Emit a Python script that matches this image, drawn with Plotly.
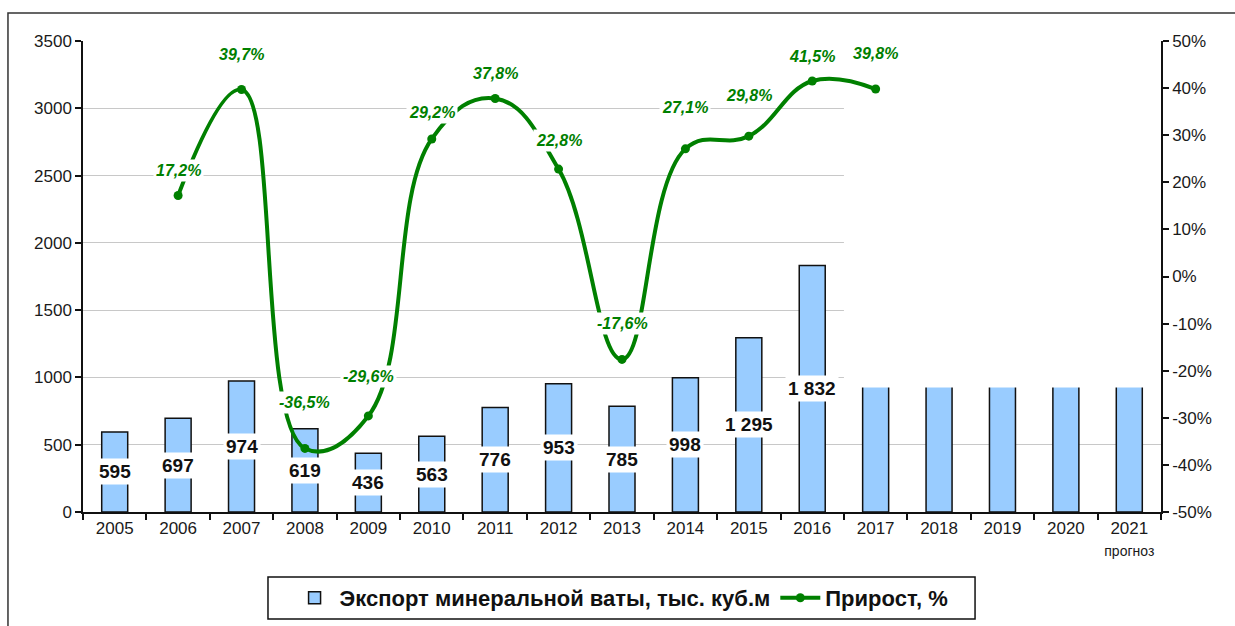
import plotly.graph_objects as go

# ---- data ----
years = ["2005", "2006", "2007", "2008", "2009", "2010", "2011", "2012",
         "2013", "2014", "2015", "2016", "2017", "2018", "2019", "2020", "2021"]
year_ticktext = ["2005", "2006", "2007", "2008", "2009", "2010", "2011", "2012",
                 "2013", "2014", "2015", "2016", "2017", "2018", "2019", "2020",
                 "2021<br><span style='font-size:14px'>прогноз</span>"]
export_years = ["2005", "2006", "2007", "2008", "2009", "2010", "2011", "2012",
                "2013", "2014", "2015", "2016"]
export_values = [595, 697, 974, 619, 436, 563, 776, 953, 785, 998, 1295, 1832]
forecast_years = ["2017", "2018", "2019", "2020", "2021"]
forecast_values = [960, 960, 960, 960, 960]   # tops hidden in the source

growth_years = ["2006", "2007", "2008", "2009", "2010", "2011", "2012",
                "2013", "2014", "2015", "2016", "2017"]
growth_values = [17.2, 39.7, -36.5, -29.6, 29.2, 37.8, 22.8, -17.6, 27.1, 29.8, 41.5, 39.8]

left_tickvals = [0, 500, 1000, 1500, 2000, 2500, 3000, 3500]
left_ticktext = ["0", "500", "1000", "1500", "2000", "2500", "3000", "3500"]
right_tickvals = [-50, -40, -30, -20, -10, 0, 10, 20, 30, 40, 50]
right_ticktext = ["-50%", "-40%", "-30%", "-20%", "-10%", "0%", "10%", "20%", "30%", "40%", "50%"]

# ---- styles ----
BAR_FILL = "#99CCFF"
GREEN = "#008000"
FONT = "Liberation Sans, Arial, sans-serif"
label_shift_px = [25, 35, 46, 39, 26, 25, 29, 36, 41, 41, 25, 36]
COVER_BASE = 925
COVER_TOP = 3470

fig = go.Figure()

fig.add_trace(go.Bar(
    x=export_years + forecast_years,
    y=export_values + forecast_values,
    name="Экспорт минеральной ваты, тыс. куб.м",
    marker=dict(color=BAR_FILL, line=dict(color="#111111", width=1.5)),
    hoverinfo="x+y",
))

# white mask hiding the forecast area (as in the source)
fig.add_trace(go.Bar(
    x=[forecast_years[len(forecast_years) // 2]],
    y=[COVER_TOP - COVER_BASE],
    base=[COVER_BASE],
    width=[len(forecast_years)],
    marker=dict(color="white", line=dict(width=0)),
    showlegend=False,
    hoverinfo="skip",
))

fig.add_trace(go.Scatter(
    x=growth_years,
    y=growth_values,
    yaxis="y2",
    name="Прирост, %",
    mode="lines+markers",
    line=dict(color=GREEN, width=4, shape="spline", smoothing=1.2),
    marker=dict(color=GREEN, size=9),
))

annotations = []
for yr, v in zip(export_years, export_values):
    annotations.append(dict(
        x=years.index(yr), y=v / 2, xref="x", yref="y",
        text="<b>" + f"{v:,}".replace(",", " ") + "</b>",
        showarrow=False, bgcolor="white", borderpad=2,
        font=dict(family=FONT, size=19, color="#111111"),
    ))
for yr, p, s in zip(growth_years, growth_values, label_shift_px):
    annotations.append(dict(
        x=years.index(yr), y=p, xref="x", yref="y2", yshift=s,
        text="<b><i>" + f"{p:.1f}%".replace(".", ",") + "</i></b>",
        showarrow=False, bgcolor="white", borderpad=2,
        font=dict(family=FONT, size=16, color=GREEN),
    ))

fig.update_layout(
    width=1235, height=626, autosize=False,
    margin=dict(l=83, r=74, t=41, b=114, autoexpand=False),
    paper_bgcolor="white", plot_bgcolor="white",
    barmode="overlay", bargap=0.59,
    font=dict(family=FONT, size=17, color="#1a1a1a"),
    xaxis=dict(
        type="category", categoryorder="array", categoryarray=years,
        tickmode="array", tickvals=years, ticktext=year_ticktext,
        tickson="boundaries", ticks="outside", ticklen=6, tickwidth=1.5,
        tickcolor="#111111", showline=True, linecolor="#111111", linewidth=1.5,
        showgrid=False, tickfont=dict(size=17), range=[-0.5, 16.5],
        automargin=False,
    ),
    yaxis=dict(
        range=[0, 3500], tickmode="array", tickvals=left_tickvals, ticktext=left_ticktext,
        showgrid=True, gridcolor="#c8c8c8", gridwidth=1,
        showline=True, linecolor="#111111", linewidth=1.5,
        ticks="outside", ticklen=6, tickwidth=1.5, tickcolor="#111111",
        zeroline=False, tickfont=dict(size=17), automargin=False,
    ),
    yaxis2=dict(
        overlaying="y", side="right", range=[-50, 50],
        tickmode="array", tickvals=right_tickvals, ticktext=right_ticktext,
        showgrid=False, zeroline=False,
        showline=True, linecolor="#111111", linewidth=1.5,
        ticks="outside", ticklen=6, tickwidth=1.5, tickcolor="#111111",
        tickfont=dict(size=17), automargin=False,
    ),
    legend=dict(
        orientation="h", x=0.4996, y=-0.1826, xanchor="center", yanchor="middle",
        bgcolor="rgba(0,0,0,0)", borderwidth=0, itemwidth=40,
        font=dict(family=FONT, size=22, color="#111111", weight="bold"),
    ),
    annotations=annotations,
    shapes=[
        dict(type="rect", xref="paper", yref="paper",
             x0=-0.0696, y0=1.0594, x1=1.08, y1=-0.35,
             line=dict(color="#333333", width=1.5), fillcolor="rgba(0,0,0,0)",
             layer="below"),
        dict(type="rect", xref="paper", yref="paper",
             x0=0.1716, y0=-0.138, x1=0.8275, y1=-0.2272,
             line=dict(color="#111111", width=1.5), fillcolor="white",
             layer="below"),
    ],
    hovermode="closest",
)

fig.write_html("out.html", post_script="document.body.style.margin='0';",
               config={"displayModeBar": False})
